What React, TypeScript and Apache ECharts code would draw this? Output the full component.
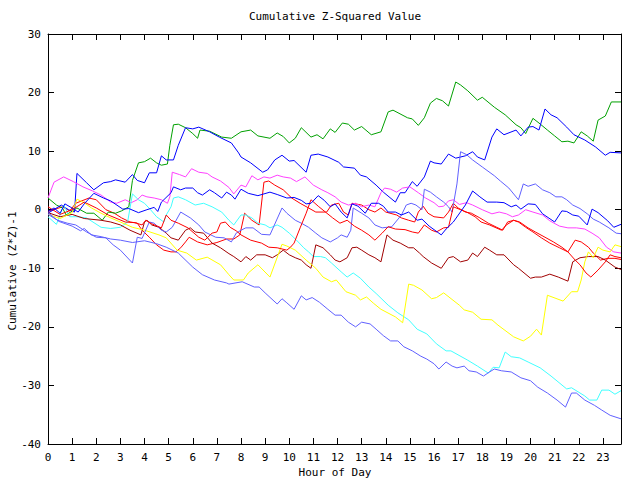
import React, { useEffect, useRef } from "react";
import * as echarts from "echarts";

const chartTitle = "Cumulative Z-Squared Value";
const xName = "Hour of Day";
const yName = "Cumulative (Z*Z)-1";
const hourRange = [0, 23.75];
const valueRange = [-40, 30];

const greenSeries = [
  [0, 2], [0.35, 0.8], [0.6, 0.3], [0.75, -0.9], [1.2, 0.3], [1.6, -0.6], [1.9, -0.6], [2.25, -1.8], [2.5, -0.4], [2.8, -0.6], [3.05, -0.2], [3.35, 0.5], [3.5, 5], [3.75, 8], [4.0, 8.2], [4.25, 8.8], [4.5, 8], [4.7, 7.6], [4.95, 7.8], [5.05, 11], [5.2, 14.5], [5.4, 14.6], [5.7, 14], [6, 13], [6.2, 12.2], [6.3, 13.6], [6.7, 13.4], [7.2, 12.4], [7.6, 12.2], [8, 13.3], [8.4, 13.6], [8.7, 12.6], [9.2, 12.2], [9.5, 13.1], [9.75, 12.5], [10, 11.4], [10.25, 12.2], [10.5, 14], [10.9, 12.4], [11.15, 12.8], [11.4, 12.1], [11.7, 13.8], [11.9, 13.2], [12.2, 14.8], [12.45, 14.6], [12.7, 13.6], [13, 14.2], [13.4, 12.8], [13.8, 13.3], [14.1, 16.7], [14.3, 17], [14.9, 15.7], [15.1, 15.5], [15.35, 14.4], [15.6, 15.7], [15.85, 18.2], [16.1, 19], [16.35, 18.6], [16.6, 17.7], [16.9, 21.8], [17.1, 21.3], [17.4, 20.3], [17.8, 18.7], [18, 19.2], [18.5, 17.5], [18.95, 16.2], [19.4, 14.5], [19.6, 14], [19.8, 13], [20.1, 15.6], [20.35, 14.8], [20.7, 13.6], [21, 12.6], [21.3, 11.6], [21.55, 11.7], [21.8, 11.4], [22.1, 13.3], [22.35, 12.6], [22.6, 11.7], [22.8, 15.3], [23.1, 16], [23.35, 18.4], [23.75, 18.4],
];

const blueHighSeries = [
  [0, -0.6], [0.55, 0.8], [0.85, 0], [1.1, -0.4], [1.2, 6.2], [1.6, 4.6], [1.9, 3.4], [2.3, 4.6], [2.6, 4.8], [2.8, 5.1], [3.2, 4.7], [3.5, 6], [3.7, 5], [4, 4.6], [4.2, 6.3], [4.5, 6.3], [4.7, 9.2], [4.9, 8.5], [5.2, 8.5], [5.4, 11], [5.7, 14], [6, 13.8], [6.25, 14.1], [6.7, 13.3], [7.1, 12.4], [7.6, 11.4], [7.9, 9.7], [8.0, 9], [8.4, 8], [8.9, 6.4], [9.1, 6.8], [9.4, 8.5], [9.7, 9.3], [10, 8.3], [10.2, 8.4], [10.7, 6.4], [10.9, 9.3], [11.2, 9.5], [11.6, 9], [12.05, 8.1], [12.25, 7.3], [12.7, 7.1], [12.95, 5.9], [13.2, 5.6], [13.6, 4.2], [13.9, 3], [14.4, 1.3], [14.6, 2.9], [14.8, 2.9], [15.1, 4.8], [15.3, 4], [15.6, 5.6], [15.85, 8.3], [16, 8], [16.3, 7.8], [16.6, 9.5], [16.9, 8.8], [17.3, 9.2], [17.6, 9.9], [17.8, 9], [18.1, 8.5], [18.4, 12.4], [18.6, 13.8], [18.9, 12.8], [19.4, 13.6], [19.6, 12.6], [19.9, 14.1], [20.1, 14.2], [20.35, 13.6], [20.6, 17.2], [20.85, 16.2], [21.1, 15.7], [21.5, 14.1], [21.8, 12.8], [22.25, 11.9], [22.7, 10.7], [23.1, 9.3], [23.3, 9.8], [23.75, 9.7],
];

const blueMidSeries = [
  [0, -0.3], [0.25, 0.3], [0.5, -0.6], [0.7, 1], [0.95, 0.4], [1.25, -0.4], [1.5, 1], [1.9, 2.8], [2.3, 2], [2.6, 1.5], [3.1, 0.1], [3.35, 0.2], [3.75, -0.5], [4.1, 0], [4.4, 0.4], [4.55, -0.3], [4.7, 1.3], [5.1, 2.9], [5.2, 3.9], [5.5, 3.4], [5.7, 3.7], [6, 3.7], [6.2, 2.9], [6.4, 2.5], [6.7, 3.4], [6.9, 2.9], [7.2, 2], [7.4, 3], [7.6, 2.5], [7.75, 1.8], [8, 3.5], [8.3, 2.8], [8.7, 2.4], [9.2, 3], [9.5, 2.6], [9.9, 2], [10.2, 2.1], [10.5, 1.6], [10.7, 1], [10.9, 1.1], [11.2, 2.4], [11.45, 1.6], [11.7, 0.5], [11.9, 1], [12.15, -0.4], [12.4, -1.4], [12.6, 1], [12.85, 0.6], [13.15, -0.6], [13.4, 1.1], [13.7, 1.1], [13.9, 0.6], [14.1, -0.4], [14.4, -0.4], [14.65, -0.9], [14.95, -0.4], [15.3, -1.8], [15.5, -1.6], [15.8, -2.8], [16.3, -4.3], [16.5, -3.3], [16.8, -2.1], [17.3, 0.8], [17.6, 3.2], [17.9, 2.2], [18.2, 1.3], [18.6, 1.3], [18.9, 1.2], [19.2, 0.5], [19.4, 0.8], [19.6, 0.1], [19.9, 1], [20.2, 0.9], [20.5, -0.7], [21, -2.1], [21.3, -0.2], [21.5, -0.3], [21.75, -0.9], [22, -1.1], [22.35, -2.6], [22.55, 0.1], [22.8, -0.5], [23.2, -1.9], [23.45, -3], [23.75, -2.5],
];

const magentaSeries = [
  [0, 2], [0.25, 4.7], [0.65, 5.6], [1.05, 4.8], [1.45, 3.9], [1.85, 3.2], [2.2, 2.5], [2.6, 1.3], [2.85, 1.1], [3.2, 1.7], [3.45, 1.2], [3.7, 1.7], [3.9, 2.5], [4.1, 2.2], [4.4, 2], [4.7, 1.7], [4.95, 1.1], [5.05, 2.2], [5.15, 6.4], [5.45, 6], [5.7, 5.6], [5.95, 7], [6.25, 6.4], [6.6, 6.2], [6.8, 5.6], [7.15, 4.9], [7.5, 3.8], [7.7, 2.7], [8, 4.2], [8.2, 3.9], [8.45, 5.8], [8.7, 5.1], [8.95, 5.6], [9.2, 5.4], [9.5, 5.9], [9.75, 5.6], [10.05, 5.4], [10.3, 4.8], [10.65, 5.6], [11, 4.2], [11.35, 3.4], [11.6, 2.9], [11.9, 2.2], [12.15, 1.3], [12.45, 0.8], [12.75, 1.1], [13, 0.5], [13.3, 0.8], [13.55, 0.5], [13.8, 2.9], [13.95, 3.7], [14.2, 3.5], [14.45, 3], [14.7, 3.7], [15, 3.9], [15.35, 2.9], [15.65, 2], [16, 1.2], [16.2, 0.5], [16.4, 0.6], [16.6, 1.5], [16.8, 1.7], [17.05, 0.9], [17.35, 1.2], [17.6, 0.8], [18, 0], [18.4, -0.7], [18.7, -0.4], [19, -0.7], [19.25, -1.2], [19.5, -0.9], [19.8, 0], [20.1, -0.4], [20.5, -0.9], [20.8, -1.9], [21.2, -2.8], [21.55, -3.1], [21.9, -3.1], [22.25, -3.3], [22.55, -4], [22.85, -4.8], [23.15, -6.4], [23.45, -7.2], [23.75, -7.4],
];

const cyanSeries = [
  [0, -1.2], [0.35, -2.5], [0.65, 0.8], [0.9, -1.2], [1.2, -1.2], [1.6, -1.4], [2.2, -3], [2.6, -3.2], [3, -3], [3.3, -2.1], [3.5, 2.7], [3.75, 1.7], [4, 1.1], [4.25, 0], [4.5, -1.2], [4.8, -2.1], [4.9, -0.9], [5.1, 0.5], [5.2, 2], [5.4, 2.2], [5.7, 1.7], [6.1, 0.8], [6.45, 1.1], [6.8, 0.5], [7.2, -0.4], [7.5, -1.8], [7.7, -2.6], [8, -0.9], [8.2, -0.9], [8.45, -1.4], [8.7, -2.3], [9, -2.6], [9.2, -3.1], [9.5, -2.6], [9.7, -3], [10, -4], [10.3, -5.2], [10.6, -6.5], [10.8, -7.2], [11, -8], [11.3, -8], [11.5, -8.2], [11.75, -9.1], [12.15, -10.6], [12.4, -11.5], [12.65, -10.8], [12.95, -11.7], [13.3, -13.2], [13.6, -14.3], [14.1, -16.3], [14.5, -17.6], [14.95, -18.8], [15.3, -20.4], [15.7, -21.2], [16.1, -22.9], [16.5, -24.1], [16.7, -24.1], [17.4, -25.7], [17.8, -26.7], [18.25, -27.9], [18.45, -26.9], [18.7, -27], [18.95, -24.3], [19.2, -25.1], [19.55, -25.3], [19.9, -26], [20.4, -27], [20.85, -28.4], [21.5, -30.6], [21.7, -30.4], [22.25, -31.8], [22.45, -32.5], [22.75, -32.5], [22.95, -30.8], [23.25, -30.8], [23.5, -31.5], [23.75, -30.9],
];

const yellowSeries = [
  [0, -0.8], [0.5, -1.5], [1, -0.5], [1.2, 1.8], [1.5, 1.2], [1.8, 0.3], [2.2, -0.6], [2.6, -1.4], [3, -2.1], [3.5, -3], [4, -3.5], [4.6, -4.3], [4.9, -4.8], [5.35, -6.9], [5.75, -7.4], [6.15, -8.6], [6.6, -8.1], [7.15, -9.4], [7.5, -11.1], [7.7, -12], [8.1, -12], [8.3, -10.8], [8.7, -9.4], [9.2, -11.5], [9.7, -5.9], [9.9, -6.2], [10.25, -6.9], [10.7, -8.6], [11.1, -10], [11.4, -11.5], [11.75, -12.3], [11.95, -12], [12.35, -14], [12.75, -14.6], [12.95, -15.4], [13.2, -14.9], [13.5, -16], [13.8, -17], [14.4, -18.3], [14.7, -19.3], [14.95, -12.7], [15.15, -12.9], [15.5, -13.7], [15.9, -15.2], [16.1, -15], [16.4, -14.2], [17.05, -16.3], [17.25, -17.1], [17.6, -17.5], [17.95, -18.7], [18.4, -18.8], [18.65, -19.7], [19.3, -21.7], [19.7, -22.4], [20.0, -21.6], [20.25, -20.4], [20.45, -21.4], [20.7, -14.6], [21.35, -15.6], [21.7, -14], [21.95, -14], [22.1, -12], [22.25, -8.9], [22.4, -7.2], [22.6, -8.2], [22.8, -6.4], [23, -6.9], [23.3, -7.2], [23.5, -6], [23.75, -6.3],
];

const darkRedSeries = [
  [0, -0.5], [0.5, -1.2], [1, -0.8], [1.5, -1.5], [2.2, -1.8], [2.6, -2.1], [3, -2.6], [3.4, -3.5], [3.85, -4.3], [4, -2.1], [4.1, -1.8], [4.3, -2.6], [4.6, -3], [4.9, -4], [5.1, -4.8], [5.4, -5.2], [5.7, -3.5], [5.9, -3.1], [6.1, -3.8], [6.45, -4], [6.8, -5.7], [7.15, -6.5], [7.5, -7.5], [7.7, -8], [8, -8.9], [8.2, -8], [8.4, -8.6], [8.65, -7.7], [9, -7.7], [9.3, -8.2], [9.5, -7.7], [9.75, -6.9], [10, -7.7], [10.25, -8.2], [10.5, -8.6], [10.7, -9.4], [10.9, -10], [11.1, -6], [11.4, -6.5], [11.7, -7.7], [11.9, -8.6], [12.1, -8.9], [12.4, -8.2], [12.6, -6.5], [12.8, -6.4], [13, -6.9], [13.3, -7.7], [13.55, -8.2], [13.8, -8.9], [14.05, -4.3], [14.3, -5.2], [14.6, -5.7], [14.95, -6.5], [15.15, -6.5], [15.4, -7.4], [15.55, -8], [15.9, -9.1], [16.3, -10], [16.6, -8.2], [16.8, -8], [17.1, -8.9], [17.4, -8.6], [17.6, -7.4], [17.8, -8], [18.1, -6.4], [18.3, -6.9], [18.6, -7.7], [18.9, -7.7], [19.3, -9.4], [19.5, -10], [20, -11.7], [20.2, -11.5], [20.45, -11.5], [20.8, -11], [21.15, -11.5], [21.55, -12.2], [21.75, -8.9], [22.05, -8.2], [22.4, -8], [22.8, -8], [23.1, -8.6], [23.5, -9.8], [23.75, -10.2],
];

const redASeries = [
  [0, -0.3], [0.6, 0.5], [0.9, -0.2], [1.15, 1.1], [1.7, 2], [2, 1.7], [2.4, 0], [2.75, -0.6], [3.05, -1.4], [3.4, -2.1], [3.7, -2.3], [3.9, -3.5], [4.2, -4.7], [4.5, -6], [4.8, -6.9], [5.1, -7.2], [5.3, -7.2], [5.5, -6.5], [5.7, -5.5], [5.85, -4.7], [6.2, -5.5], [6.6, -6], [7, -5.6], [7.4, -5], [7.7, -5], [7.95, -4.3], [8.15, -0.6], [8.45, -1.8], [8.75, -2.6], [8.95, 4.7], [9.15, 4.9], [9.4, 4.2], [9.75, 3.4], [10.1, 2], [10.45, 1.1], [10.8, 0.3], [11.1, -0.4], [11.55, -0.4], [11.75, 0.8], [12.05, 1.1], [12.25, -0.4], [12.45, -0.9], [12.6, 1.1], [13, 0.8], [13.3, 0], [13.55, -0.4], [13.8, 0.3], [14, -0.4], [14.45, -0.9], [14.65, -1.4], [14.95, -1.8], [15.2, -2.1], [15.35, -0.4], [15.55, 0.6], [15.75, -0.6], [16, -1.2], [16.4, -1.4], [16.6, -0.4], [16.8, 1.1], [17, 0.3], [17.3, -0.4], [17.55, -0.6], [17.9, -1.4], [18.25, -2.3], [18.6, -3], [18.85, -3.5], [19.05, -2.1], [19.3, -1.8], [19.5, -2.1], [19.8, -3], [20.1, -3.8], [20.45, -4.8], [20.8, -5.7], [21.2, -6.5], [21.55, -7.2], [21.85, -5.2], [22.1, -5.5], [22.4, -6.4], [22.6, -7.4], [22.9, -8.6], [23.2, -8.3], [23.5, -8.3], [23.75, -8.5],
];

const redBSeries = [
  [0, 0.5], [0.5, -0.8], [1, 0], [1.5, 1.3], [2, 0.3], [2.5, -0.9], [3.2, -2.1], [3.6, -2.2], [3.9, -2.6], [4.05, -1.8], [4.3, -2.4], [4.7, -3.1], [4.9, -0.9], [5.1, -1.8], [5.4, -2.3], [5.8, -3.1], [6.25, -4.7], [6.5, -5.2], [6.8, -4], [7, -3.8], [7.15, -2.3], [7.35, -2.1], [7.55, -3], [7.8, -3.6], [8, -4.3], [8.4, -5.2], [8.85, -5.7], [9.15, -6.4], [9.5, -6.5], [9.9, -6.9], [10.05, -6.4], [10.2, -5.7], [10.45, -3.1], [10.7, -0.6], [10.9, 1.7], [11.2, 0.6], [11.5, -0.4], [11.8, -1.4], [12.1, -2.3], [12.4, -1.8], [12.7, -2.8], [13, -3.5], [13.3, -4.3], [13.55, -5.2], [13.85, -4], [14.1, -2.9], [14.4, -3.3], [14.8, -3.4], [15.1, -3.8], [15.35, -4], [15.6, -2.6], [15.9, -3.5], [16.1, -3.8], [16.4, -3.1], [16.6, -3], [16.8, 0.5], [17.1, 0], [17.35, -0.4], [17.7, -1.2], [17.95, -2.1], [18.3, -2.6], [18.8, -3.5], [19, -2.6], [19.3, -1.8], [19.55, -2.1], [19.9, -3.1], [20.2, -3.8], [20.6, -4.7], [20.95, -5.5], [21.3, -6.4], [21.55, -7.2], [21.85, -8.6], [22.05, -9.4], [22.3, -10.8], [22.5, -11.5], [22.8, -10.3], [23.1, -8.9], [23.3, -7.7], [23.5, -8], [23.75, -8.2],
];

const lavenderASeries = [
  [0, -0.8], [0.4, -1.8], [0.8, -2.3], [1.15, -2.6], [1.6, -3.8], [2, -4.7], [2.4, -4.8], [2.7, -6], [3, -6.9], [3.5, -9.1], [3.7, -4.7], [3.9, -4.9], [4.2, -2.1], [4.4, -2.3], [4.7, -3.5], [4.9, -3.8], [5.15, -3], [5.5, -0.4], [5.9, -1.4], [6.25, -2.6], [6.5, -3.8], [6.95, -4.7], [7.3, -4.8], [7.6, -5.5], [7.8, -4], [8, -3.5], [8.2, -3.1], [8.5, -3.1], [8.85, -4.2], [9.2, -4.3], [9.7, 0.3], [9.9, -0.6], [10.25, -1.8], [10.5, -2.3], [10.8, -3], [11.1, -4], [11.35, -4.8], [11.7, -5.5], [12, -4.8], [12.15, -4.3], [12.4, -4.7], [12.55, -3.5], [12.65, 0.3], [13, -0.6], [13.3, -1.4], [13.55, -2.6], [13.85, -3.1], [14.25, -2.9], [14.65, -0.9], [14.85, 0.8], [15.05, 1.1], [15.25, 0.8], [15.5, 0], [15.6, 3.5], [15.85, 3], [16.1, 2.2], [16.4, 1.3], [16.6, 0.5], [16.75, -0.4], [16.95, 4.4], [17.1, 9.9], [17.35, 9.4], [17.6, 8.5], [18, 7.3], [18.5, 5.8], [18.75, 4.9], [19.1, 3.7], [19.5, 1.7], [19.7, 4.4], [19.9, 4], [20.2, 4.4], [20.5, 3.4], [20.8, 2.9], [21.05, 2.2], [21.3, 2.2], [21.5, 1.7], [21.75, 0.8], [22.05, 0.2], [22.35, -0.7], [22.6, -1.6], [22.85, -2.1], [23.25, -3.1], [23.55, -4], [23.75, -4.1],
];

const lavenderBSeries = [
  [0, -0.5], [0.45, -2], [1, -2.8], [1.35, -3.6], [1.5, -3.2], [1.8, -4.3], [2.2, -4.6], [2.6, -5], [3, -5.2], [3.5, -5.6], [4, -5.3], [4.5, -5.8], [4.9, -6.4], [5.4, -7.4], [6, -9.8], [6.4, -11.1], [6.9, -12], [7.4, -12.5], [7.5, -12.7], [8.05, -12.3], [8.55, -13.2], [8.75, -13.2], [9, -14.2], [9.5, -16.1], [9.7, -15.2], [9.9, -15.9], [10.2, -17], [10.5, -14.7], [10.7, -15.4], [10.95, -15], [11.25, -15.8], [11.6, -17], [11.9, -18], [12.15, -18], [12.45, -19.2], [12.75, -20], [13, -19.2], [13.35, -19.5], [13.6, -20.4], [13.9, -21.5], [14.2, -22.4], [14.5, -22.4], [14.75, -23.4], [15.1, -24.1], [15.45, -25], [15.7, -25.5], [16, -26.3], [16.2, -27.2], [16.5, -26], [16.75, -26.7], [16.95, -27], [17.25, -26.7], [17.45, -27.5], [17.75, -27.7], [18.05, -28.4], [18.3, -27.7], [18.5, -27.2], [18.8, -27.5], [19.2, -27.7], [19.6, -28.7], [20, -29.2], [20.3, -30.3], [20.7, -31.3], [21.1, -32.5], [21.45, -33.7], [21.7, -31.3], [21.9, -31.3], [22.25, -32.5], [22.65, -33.4], [22.95, -34.2], [23.3, -35.1], [23.75, -35.7],
];

const seriesList = [
  { name: "s1", color: "#ff0000", data: redASeries },
  { name: "s2", color: "#00a000", data: greenSeries },
  { name: "s3", color: "#0000ff", data: blueHighSeries },
  { name: "s4", color: "#ff40ff", data: magentaSeries },
  { name: "s5", color: "#40ffff", data: cyanSeries },
  { name: "s6", color: "#a00000", data: darkRedSeries },
  { name: "s7", color: "#ffff00", data: yellowSeries },
  { name: "s8", color: "#6060ff", data: lavenderASeries },
  { name: "s9", color: "#ff0000", data: redBSeries },
  { name: "s10", color: "#0000ff", data: blueMidSeries },
  { name: "s11", color: "#6060ff", data: lavenderBSeries },
];

const FONT = "DejaVu Sans Mono";

export default function App() {
  const ref = useRef<HTMLDivElement>(null);
  useEffect(() => {
    const chart = echarts.init(ref.current!, null, { renderer: "svg" });
    const axisCommon = {
      axisLine: { show: true, onZero: false, lineStyle: { color: "#000", width: 1 } },
      axisTick: { show: true, inside: true, length: 6, lineStyle: { color: "#000", width: 1 } },
      splitLine: { show: false },
    };
    chart.setOption({
      animation: false,
      backgroundColor: "#ffffff",
      grid: { left: 48, right: 19, top: 34, bottom: 36, containLabel: false },
      xAxis: [
        {
          type: "value", min: hourRange[0], max: hourRange[1], interval: 1, position: "bottom",
          ...axisCommon,
          axisLabel: {
            show: true, color: "#000", fontFamily: FONT, fontSize: 11, margin: 8, showMaxLabel: false,
            formatter: (v: number) => (Number.isInteger(v) ? String(v) : ""),
          },
        },
        {
          type: "value", min: hourRange[0], max: hourRange[1], interval: 1, position: "top",
          ...axisCommon, axisLabel: { show: false },
        },
      ],
      yAxis: [
        {
          type: "value", min: valueRange[0], max: valueRange[1], interval: 10, position: "left",
          ...axisCommon,
          axisLabel: { show: true, color: "#000", fontFamily: FONT, fontSize: 11, margin: 7 },
        },
        {
          type: "value", min: valueRange[0], max: valueRange[1], interval: 10, position: "right",
          ...axisCommon, axisLabel: { show: false },
        },
      ],
      graphic: [
        { type: "text", x: 335, y: 16, style: { text: chartTitle, fill: "#000", font: `11px "${FONT}"`, align: "center", verticalAlign: "middle" } },
        { type: "text", x: 335, y: 472, style: { text: xName, fill: "#000", font: `11px "${FONT}"`, align: "center", verticalAlign: "middle" } },
        { type: "text", x: 12, y: 271, rotation: Math.PI / 2, style: { text: yName, fill: "#000", font: `11px "${FONT}"`, align: "center", verticalAlign: "middle" } },
      ],
      series: seriesList.map((s) => ({
        name: s.name,
        type: "line",
        xAxisIndex: 0,
        yAxisIndex: 0,
        data: s.data,
        showSymbol: false,
        symbol: "none",
        lineStyle: { color: s.color, width: 1 },
        itemStyle: { color: s.color },
        silent: true,
      })),
    });
    return () => chart.dispose();
  }, []);
  return (
    <div
      ref={ref}
      style={{ position: "absolute", left: 0, top: 0, width: 640, height: 480, background: "#fff" }}
    />
  );
}
